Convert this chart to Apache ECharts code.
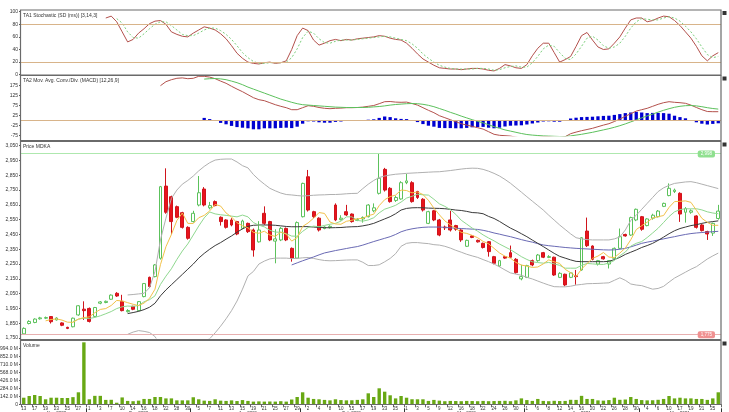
<!DOCTYPE html>
<html><head><meta charset="utf-8">
<script src="https://cdn.jsdelivr.net/npm/echarts@6/dist/echarts.min.js"></script>
<style>html,body{margin:0;padding:0;background:#fff}#c{width:729px;height:412px}</style>
</head><body><div id="c"></div>
<script>
// ---------- DATA ----------
const dates = [
'2020-11-13','2020-11-16','2020-11-17','2020-11-18','2020-11-19','2020-11-20','2020-11-23','2020-11-24','2020-11-25','2020-11-26','2020-11-27','2020-11-30',
'2020-12-01','2020-12-02','2020-12-03','2020-12-04','2020-12-07','2020-12-08','2020-12-10','2020-12-11','2020-12-14','2020-12-15','2020-12-16','2020-12-17','2020-12-18','2020-12-21','2020-12-22','2020-12-23','2020-12-28','2020-12-29','2020-12-30',
'2021-01-04','2021-01-05','2021-01-06','2021-01-07','2021-01-08','2021-01-11','2021-01-12','2021-01-13','2021-01-14','2021-01-15','2021-01-18','2021-01-19','2021-01-20','2021-01-21','2021-01-22','2021-01-25','2021-01-26','2021-01-27','2021-01-28','2021-01-29',
'2021-02-01','2021-02-02','2021-02-03','2021-02-04','2021-02-05','2021-02-08','2021-02-09','2021-02-10','2021-02-11','2021-02-15','2021-02-16','2021-02-17','2021-02-18','2021-02-19','2021-02-22','2021-02-23','2021-02-24','2021-02-25','2021-02-26',
'2021-03-01','2021-03-02','2021-03-03','2021-03-04','2021-03-05','2021-03-08','2021-03-09','2021-03-10','2021-03-12','2021-03-15','2021-03-16','2021-03-17','2021-03-18','2021-03-19','2021-03-22','2021-03-23','2021-03-24','2021-03-25','2021-03-26','2021-03-29','2021-03-30','2021-03-31',
'2021-04-01','2021-04-05','2021-04-06','2021-04-07','2021-04-08','2021-04-09','2021-04-12','2021-04-13','2021-04-14','2021-04-15','2021-04-16','2021-04-19','2021-04-20','2021-04-21','2021-04-22','2021-04-23','2021-04-26','2021-04-27','2021-04-28','2021-04-29','2021-04-30',
'2021-05-03','2021-05-04','2021-05-05','2021-05-06','2021-05-07','2021-05-10','2021-05-11','2021-05-17','2021-05-18','2021-05-19','2021-05-20','2021-05-21','2021-05-24','2021-05-25','2021-05-27'
];
const openPrices = [
1778,1848,1855,1880,1884,1895,1872,1852,1822,1826,
1906,1945,1950,1896,1985,1990,2012,2052,1998,1928,
1964,1935,2030,2160,2165,2289,2777,2705,2638,2597,
2498,2537,2649,2757,2630,2672,2566,2548,2548,2537,
2491,2525,2480,2400,2593,2537,2405,2413,2491,2356,
2290,2570,2840,2604,2560,2490,2497,2649,2550,2604,
2588,2545,2555,2570,2610,2728,2890,2762,2680,2690,
2800,2800,2740,2688,2525,2610,2548,2500,2548,2510,
2480,2370,2440,2410,2390,2401,2300,2237,2300,2327,
2282,2150,2160,2273,2273,2327,2295,2296,2160,2181,
2160,2170,2210,2473,2372,2250,2300,2250,2289,2356,
2450,2446,2548,2570,2510,2560,2570,2640,2713,2740,
2728,2600,2600,2575,2514,2470,2459,2558];
const closePrices = [
1815,1862,1878,1886,1888,1860,1885,1836,1815,1884,
1968,1935,1862,1956,1994,1998,2040,2034,1935,1936,
1944,1996,2118,2098,2244,2773,2600,2537,2566,2498,
2424,2593,2732,2649,2645,2645,2537,2498,2514,2453,
2541,2469,2345,2480,2525,2413,2420,2491,2413,2289,
2530,2795,2615,2570,2480,2500,2505,2548,2560,2582,
2537,2552,2565,2649,2630,2830,2750,2672,2700,2800,
2812,2672,2700,2615,2604,2548,2446,2495,2480,2485,
2413,2410,2430,2400,2362,2334,2255,2273,2290,2296,
2192,2165,2239,2244,2311,2296,2300,2176,2187,2109,
2190,2165,2428,2374,2282,2273,2285,2273,2356,2435,
2440,2564,2620,2485,2555,2580,2608,2660,2762,2750,
2588,2625,2610,2498,2476,2453,2525,2608];
const lowPrices = [
1775,1842,1850,1874,1878,1848,1868,1830,1810,1822,
1900,1872,1855,1890,1978,1985,2008,2028,1930,1922,
1938,1930,2025,2090,2160,2280,2590,2451,2560,2490,
2415,2530,2640,2640,2620,2640,2510,2490,2505,2445,
2485,2460,2300,2395,2515,2405,2255,2405,2405,2266,
2285,2565,2605,2560,2470,2485,2490,2540,2545,2575,
2530,2540,2530,2565,2600,2720,2740,2665,2670,2685,
2790,2665,2690,2605,2520,2540,2438,2480,2470,2475,
2400,2365,2425,2395,2355,2300,2248,2230,2285,2290,
2185,2140,2155,2235,2265,2290,2290,2170,2155,2100,
2155,2110,2205,2365,2275,2240,2280,2220,2285,2350,
2435,2440,2540,2475,2505,2550,2565,2635,2708,2730,
2535,2530,2590,2490,2470,2413,2440,2550];
const highPrices = [
1822,1870,1883,1893,1895,1898,1890,1856,1826,1888,
1972,1998,1956,1960,2000,2003,2045,2060,2042,1945,
1968,2000,2122,2165,2250,2778,2897,2712,2645,2603,
2505,2610,2845,2770,2670,2680,2572,2553,2560,2542,
2550,2530,2490,2540,2640,2542,2485,2500,2497,2362,
2538,2800,2886,2610,2566,2505,2512,2660,2580,2650,
2592,2560,2572,2655,2660,2998,2900,2770,2712,2810,
2860,2810,2745,2695,2610,2616,2555,2510,2610,2515,
2485,2415,2445,2415,2395,2405,2305,2278,2305,2375,
2290,2245,2245,2280,2318,2332,2310,2300,2195,2185,
2195,2210,2432,2564,2376,2278,2305,2276,2362,2490,
2455,2570,2625,2575,2560,2590,2615,2665,2795,2760,
2735,2635,2620,2580,2520,2475,2530,2650];
const volumeM = [
117,147,165,147,89,117,117,112,112,127,
213,1100,89,150,150,78,80,28,122,60,
55,65,95,95,130,130,105,105,70,70,
70,125,89,65,60,89,65,60,70,58,
75,60,48,52,48,50,48,55,48,85,
130,213,117,95,89,78,70,89,75,70,
72,78,89,195,130,284,224,160,105,147,
117,90,89,89,60,78,65,55,60,58,
55,60,58,55,60,55,58,60,62,55,
70,105,75,60,95,60,55,62,58,60,
80,78,150,95,95,70,65,75,117,80,
85,130,95,75,70,72,80,95,147,105,
117,105,105,95,95,78,105,213];

// moving averages / bands, each starting at a given candle
const ma5Start = 4;
const ma5 = [1866,1875,1879,1871,1857,1856,1878,1888,1893,1921,
1943,1949,1970,2004,2000,1989,1978,1969,1986,2018,
2080,2246,2367,2450,2544,2595,2525,2524,2563,2579,
2609,2653,2642,2595,2568,2529,2509,2495,2464,2458,
2472,2446,2437,2466,2452,2405,2429,2504,2528,2560,
2598,2592,2534,2521,2519,2539,2546,2556,2559,2577,
2587,2645,2685,2706,2716,2750,2747,2731,2737,2720,
2681,2628,2583,2542,2515,2491,2464,2457,2444,2428,
2403,2387,2356,2325,2303,2290,2261,2243,2236,2227,
2230,2251,2278,2265,2254,2214,2192,2165,2216,2253,
2288,2304,2328,2297,2294,2324,2358,2414,2483,2509,
2533,2561,2570,2578,2633,2672,2674,2677,2667,2614,
2559,2532,2512,2512];
const ma10Start = 9;
const ma10 = [1861,1877,1884,1882,1889,1900,1914,1929,1949,1961,
1966,1964,1970,1995,2009,2035,2112,2168,2218,2281,
2338,2386,2446,2507,2562,2602,2589,2583,2579,2574,
2569,2581,2569,2530,2513,2501,2478,2466,2465,2455,
2439,2438,2471,2497,2506,2502,2511,2519,2525,2540,
2569,2569,2545,2540,2548,2563,2596,2621,2633,2647,
2669,2696,2708,2722,2718,2716,2688,2657,2640,2618,
2586,2546,2520,2493,2472,2447,2426,2407,2385,2366,
2347,2324,2300,2281,2265,2260,2256,2261,2251,2241,
2222,2222,2222,2241,2254,2251,2248,2247,2257,2274,
2306,2331,2371,2390,2402,2429,2460,2492,2531,2571,
2603,2618,2624,2623,2624,2616,2603,2595,2590];
const bandStart = 19;
const ma20 = [1915,1922,1930,1942,1958,1985,2035,2075,2110,2145,
2180,2215,2250,2290,2322,2350,2375,2395,2418,2440,
2465,2488,2505,2512,2514,2514,2514,2512,2508,2504,
2502,2502,2503,2503,2500,2497,2496,2495,2496,2497,
2500,2502,2503,2508,2515,2525,2540,2555,2570,2590,
2615,2626,2630,2631,2630,2628,2627,2626,2624,2620,
2615,2612,2606,2598,2596,2590,2572,2558,2538,2515,
2493,2475,2455,2435,2412,2390,2368,2345,2322,2302,
2290,2278,2268,2266,2266,2266,2266,2266,2268,2280,
2295,2315,2330,2345,2362,2375,2390,2410,2432,2455,
2475,2490,2500,2510,2516,2525,2532,2537,2542];
const bandUpper = [2041,2044,2048,2052,2090,2200,2413,2560,2694,2750,
2790,2815,2845,2880,2910,2935,2953,2958,2960,2960,
2940,2915,2900,2855,2820,2790,2762,2745,2730,2720,
2717,2713,2710,2712,2715,2717,2718,2720,2720,2722,
2725,2727,2728,2760,2790,2815,2835,2845,2852,2857,
2860,2863,2865,2867,2869,2871,2873,2874,2878,2882,
2887,2892,2896,2898,2897,2890,2878,2863,2845,2822,
2796,2766,2736,2705,2675,2645,2615,2580,2547,2514,
2484,2454,2428,2420,2415,2413,2413,2413,2413,2420,
2433,2480,2545,2580,2620,2660,2700,2740,2765,2782,
2795,2800,2805,2807,2800,2790,2780,2770,2760];
const bandLower = [1775,1790,1800,1795,1787,1760,1700,1640,1590,1600,
1640,1680,1700,1715,1730,1745,1785,1830,1880,1935,
2000,2080,2170,2200,2250,2270,2285,2290,2290,2290,
2287,2288,2292,2294,2288,2280,2274,2272,2273,2275,
2277,2278,2278,2262,2240,2240,2245,2265,2288,2320,
2370,2390,2395,2395,2391,2388,2381,2378,2370,2358,
2343,2330,2316,2305,2295,2280,2266,2250,2231,2210,
2190,2182,2174,2160,2149,2135,2121,2108,2097,2096,
2096,2100,2108,2112,2117,2118,2119,2121,2123,2140,
2157,2140,2115,2108,2104,2092,2080,2085,2099,2128,
2155,2175,2195,2215,2232,2258,2284,2305,2324];
const ma50Start = 49;
const ma50 = [2244,2258,2272,2285,2298,2312,2325,2333,2341,2348,
2355,2362,2368,2378,2390,2402,2413,2424,2435,2450,
2468,2480,2488,2494,2498,2500,2500,2500,2498,2495,
2492,2490,2488,2486,2484,2478,2470,2460,2452,2443,
2435,2425,2415,2406,2398,2388,2379,2374,2370,2366,
2362,2359,2356,2354,2352,2350,2348,2346,2345,2346,
2350,2356,2366,2378,2390,2398,2405,2413,2420,2428,
2435,2443,2450,2456,2460,2463,2466,2469,2471];

// stochastic
const stochKStart = 15;
const stochK = [90,93,84,68,52,56,66,73,81,85, 86,80,68,64,61,60,66,71,76,74,
71,65,57,46,34,26,20,18,17,19, 20,18,19,22,40,62,74,70,55,47,
50,54,56,54,56,55,57,58,59,60, 62,61,58,56,55,50,42,33,25,20,
15,11,10,9,9,8,9,10,10,9, 7,6,10,16,14,11,10,16,30,42,
50,50,35,20,24,29,45,62,67,55, 44,40,41,50,60,74,87,90,90,84,
86,90,93,92,86,78,68,58,45,30, 22,30,35];
const stochDStart = 17;
const stochD = [89,82,68,59,58,65,73,80,84,84, 78,71,64,62,62,66,71,74,74,70,
64,56,46,35,27,21,18,18,19,19, 19,20,27,41,59,69,66,57,51,50,
53,55,55,55,56,57,58,59,60,61, 60,58,56,54,49,42,33,26,20,15,
12,10,9,9,9,9,10,10,9,7, 8,11,13,14,12,12,19,29,41,47,
45,35,26,24,33,45,58,61,55,46, 42,44,50,61,74,84,89,88,87,87,
90,92,90,85,77,68,57,44,32,27, 29];
const stochLevels = [80, 20];

// MACD
const macdStart = 25;
const macdLine = [175,195,205,212,214,210,212,222,222,218,
210,198,187,172,158,145,130,115,105,100,
90,80,72,65,55,55,65,75,72,66,
62,60,62,63,65,65,66,68,72,76,
85,95,96,93,92,93,86,78,65,52,
40,25,15,5,-5,-15,-22,-28,-35,-42,
-55,-68,-73,-75,-77,-82,-87,-88,-86,-83,
-80,-80,-83,-84,-80,-65,-57,-50,-44,-38,
-30,-22,-15,-4,8,22,35,48,55,62,
72,82,90,95,92,90,87,78,66,55,
46,45,45];
const signalStart = 33;
const signalLine = [208,210,211,209,205,198,190,180,168,158,
148,138,128,118,108,100,92,85,80,78,
76,74,72,70,68,67,66,66,66,66,
67,69,71,74,78,81,83,85,86,85,
82,77,70,61,52,42,33,23,14,5,
-3,-11,-20,-30,-38,-46,-52,-58,-64,-69,
-72,-74,-76,-77,-78,-79,-79,-76,-72,-68,
-63,-58,-52,-46,-40,-33,-25,-16,-6,4,
14,24,33,43,52,60,67,72,75,76,
74,70,65,61,58];
const histStart = 33;
const macdHist = [14,8,-1,-11,-18,-26,-32,-35,-38,-43,
-43,-38,-38,-38,-36,-35,-37,-30,-15,-3,
-4,-8,-10,-10,-6,-4,-1,-1,0,2,
5,7,14,21,18,12,9,8,0,-7,
-17,-25,-30,-36,-37,-37,-38,-38,-36,-33,
-32,-31,-35,-38,-35,-29,-25,-24,-23,-19,
-14,-9,-4,-3,-5,-5,-1,11,15,18,
19,20,22,24,25,29,33,38,41,44,
41,38,39,39,38,35,25,18,12,2,
-8,-15,-19,-16,-13];

// reference lines in the price panel (highest high / lowest low)
const priceHigh = 2998;
const priceLow = 1775;

// axis tick labels
const stochTicks = [0, 100, 20];        // min, max, step
const macdTicks = [-75, 225, 50];
const priceTicks = [1750, 3050, 100];
const volumeTicks = [0, 994, 142];

const titles = ['TA1 Stochastic (SD (ms)) [3,14,3]', 'TA2 Mov. Avg. Conv./Div. (MACD) [12,26,9]', 'Price MDKA', 'Volume'];

// ---------- BUILD ----------
function pad(start, arr) { return new Array(start).fill('-').concat(arr); }
const candles = dates.map((d, i) => [openPrices[i], closePrices[i], lowPrices[i], highPrices[i]]);
const monthNames = ['Jan','Feb','Mar','Apr','May','Jun','Jul','Aug','Sep','Oct','Nov','Dec'];
const groups = {};
dates.forEach((d, i) => { const k = d.slice(0, 7); (groups[k] = groups[k] || []).push(i); });
const monthStart = new Set(); const monthMid = {};
Object.keys(groups).forEach(k => {
  const g = groups[k];
  if (g[0] > 0) monthStart.add(g[0]);
  monthMid[g[Math.floor(g.length / 2)]] = monthNames[+k.slice(5) - 1] + ' ' + k.slice(0, 4);
});

const FONT = 'Liberation Sans';
const LBL = { fontSize: 5, color: '#333', fontFamily: FONT, margin: 3 };
const L = 21, W = 700;
const grids = [
  { left: L, width: W, top: 11.7, height: 63 },
  { left: L, width: W, top: 75.7, height: 60 },
  { left: L, width: W, top: 145.7, height: 192.3 },
  { left: L, width: W, top: 348.3, height: 56 }
].map(g => Object.assign({ containLabel: false, outerBoundsMode: 'none' }, g));

function xCat(gi, extra) {
  return Object.assign({
    type: 'category', gridIndex: gi, data: dates, boundaryGap: true,
    axisLine: { show: false }, axisTick: { show: false }, axisLabel: { show: false }, splitLine: { show: false }
  }, extra || {});
}
function yVal(gi, t, fmt, hideMax) {
  return {
    type: 'value', gridIndex: gi, min: t[0], max: t[1], interval: t[2],
    axisLine: { show: false }, splitLine: { show: false },
    axisTick: { show: true, length: 2, lineStyle: { color: '#555' } },
    axisLabel: Object.assign({}, LBL, { formatter: fmt, showMaxLabel: !hideMax })
  };
}
const tan = '#d8b48a';

const option = {
  animation: false,
  backgroundColor: '#ffffff',
  grid: grids,
  xAxis: [
    xCat(0), xCat(1), xCat(2),
    xCat(3, {
      axisLine: { show: true, lineStyle: { color: '#555', width: 1 } },
      axisTick: { show: true, interval: 1, length: 3, lineStyle: { color: '#666' } },
      axisLabel: { show: true, interval: 1, fontSize: 4.5, color: '#333', fontFamily: FONT, margin: 1.5,
        formatter: v => String(+v.slice(8)) }
    }),
    xCat(3, {
      position: 'bottom', offset: 4,
      axisTick: { show: true, length: 6, interval: i => monthStart.has(i), lineStyle: { color: '#333' } },
      axisLabel: { show: true, interval: i => monthMid[i] !== undefined, fontSize: 4.5, color: '#333',
        fontFamily: FONT, margin: 3, formatter: (v, i) => monthMid[i] || '' }
    })
  ],
  yAxis: [
    yVal(0, stochTicks, v => String(v)),
    yVal(1, macdTicks, v => String(v), true),
    yVal(2, priceTicks, v => v.toLocaleString('en-US')),
    yVal(3, volumeTicks, v => v === 0 ? '0' : v.toFixed(1) + ' M')
  ],
  series: [
    { type: 'line', xAxisIndex: 0, yAxisIndex: 0, data: pad(stochKStart, stochK), symbol: 'none',
      lineStyle: { color: '#b3514c', width: 1 },
      markLine: { symbol: 'none', silent: true, label: { show: false },
        lineStyle: { color: tan, width: 1, type: 'solid' }, data: stochLevels.map(v => ({ yAxis: v })) } },
    { type: 'line', xAxisIndex: 0, yAxisIndex: 0, data: pad(stochDStart, stochD), symbol: 'none',
      lineStyle: { color: '#7ccf7c', width: 1, type: [2, 2] } },

    { type: 'bar', xAxisIndex: 1, yAxisIndex: 1, data: pad(histStart, macdHist), barWidth: '60%',
      itemStyle: { color: '#0000d0' } },
    { type: 'line', xAxisIndex: 1, yAxisIndex: 1, data: pad(macdStart, macdLine), symbol: 'none',
      lineStyle: { color: '#b3514c', width: 1 },
      markLine: { symbol: 'none', silent: true, label: { show: false },
        lineStyle: { color: tan, width: 1, type: 'solid' }, data: [{ yAxis: 0 }] } },
    { type: 'line', xAxisIndex: 1, yAxisIndex: 1, data: pad(signalStart, signalLine), symbol: 'none',
      lineStyle: { color: '#5cc05c', width: 1 } },

    { type: 'line', xAxisIndex: 2, yAxisIndex: 2, data: pad(bandStart, bandUpper), symbol: 'none',
      lineStyle: { color: '#b0b0b0', width: 1 } },
    { type: 'line', xAxisIndex: 2, yAxisIndex: 2, data: pad(bandStart, bandLower), symbol: 'none',
      lineStyle: { color: '#b0b0b0', width: 1 } },
    { type: 'line', xAxisIndex: 2, yAxisIndex: 2, data: pad(ma50Start, ma50), symbol: 'none',
      lineStyle: { color: '#6a6ab4', width: 1 } },
    { type: 'line', xAxisIndex: 2, yAxisIndex: 2, data: pad(bandStart, ma20), symbol: 'none',
      lineStyle: { color: '#3a3a3a', width: 1 } },
    { type: 'line', xAxisIndex: 2, yAxisIndex: 2, data: pad(ma10Start, ma10), symbol: 'none',
      lineStyle: { color: '#8fd88f', width: 1 } },
    { type: 'line', xAxisIndex: 2, yAxisIndex: 2, data: pad(ma5Start, ma5), symbol: 'none',
      lineStyle: { color: '#f2c24a', width: 1 } },
    { type: 'candlestick', xAxisIndex: 2, yAxisIndex: 2, data: candles, barWidth: '62%',
      itemStyle: { color: '#ffffff', color0: '#e8141c', borderColor: '#5cc25c', borderColor0: '#d0141c', borderWidth: 1 },
      markLine: { symbol: 'none', silent: true, data: [
        { yAxis: priceHigh, lineStyle: { color: '#aee8ae', width: 1, type: 'solid' },
          label: { show: true, position: 'insideEndTop', distance: 0, offset: [-6, 4], formatter: v => v.value.toLocaleString('en-US'),
            fontSize: 4.5, color: '#ffffff', backgroundColor: '#8fe08f', padding: [1, 3], borderRadius: 2, fontFamily: FONT } },
        { yAxis: priceLow, lineStyle: { color: '#e8b0b0', width: 1, type: 'solid' },
          label: { show: true, position: 'insideEndTop', distance: 0, offset: [-6, 4], formatter: v => v.value.toLocaleString('en-US'),
            fontSize: 4.5, color: '#ffffff', backgroundColor: '#f09090', padding: [1, 3], borderRadius: 2, fontFamily: FONT } }
      ] } },

    { type: 'bar', xAxisIndex: 3, yAxisIndex: 3, data: volumeM, barWidth: '62%', clip: false,
      itemStyle: { color: '#68a814' } }
  ],
  graphic: { elements: [] }
};

const panels = [[10, 75], [75.5, 140.5], [141.5, 339.5], [340.5, 404.5]];
panels.forEach((p, k) => {
  option.graphic.elements.push({ type: 'rect', z: 100, silent: true,
    shape: { x: 20.5, y: p[0], width: 700.5, height: p[1] - p[0] },
    style: { fill: 'transparent', stroke: '#6a6a6a', lineWidth: 1.2 } });
  option.graphic.elements.push({ type: 'rect', z: 100, silent: true,
    shape: { x: 722.5, y: p[0] + 1, width: 4, height: 4 }, style: { fill: '#333' } });
  option.graphic.elements.push({ type: 'text', z: 100, silent: true, x: 23, y: p[0] + 3,
    style: { text: titles[k], fontSize: 5, fill: '#333', fontFamily: FONT } });
});

const chart = echarts.init(document.getElementById('c'), null, { renderer: 'canvas' });
chart.setOption(option);
</script>
</body></html>
